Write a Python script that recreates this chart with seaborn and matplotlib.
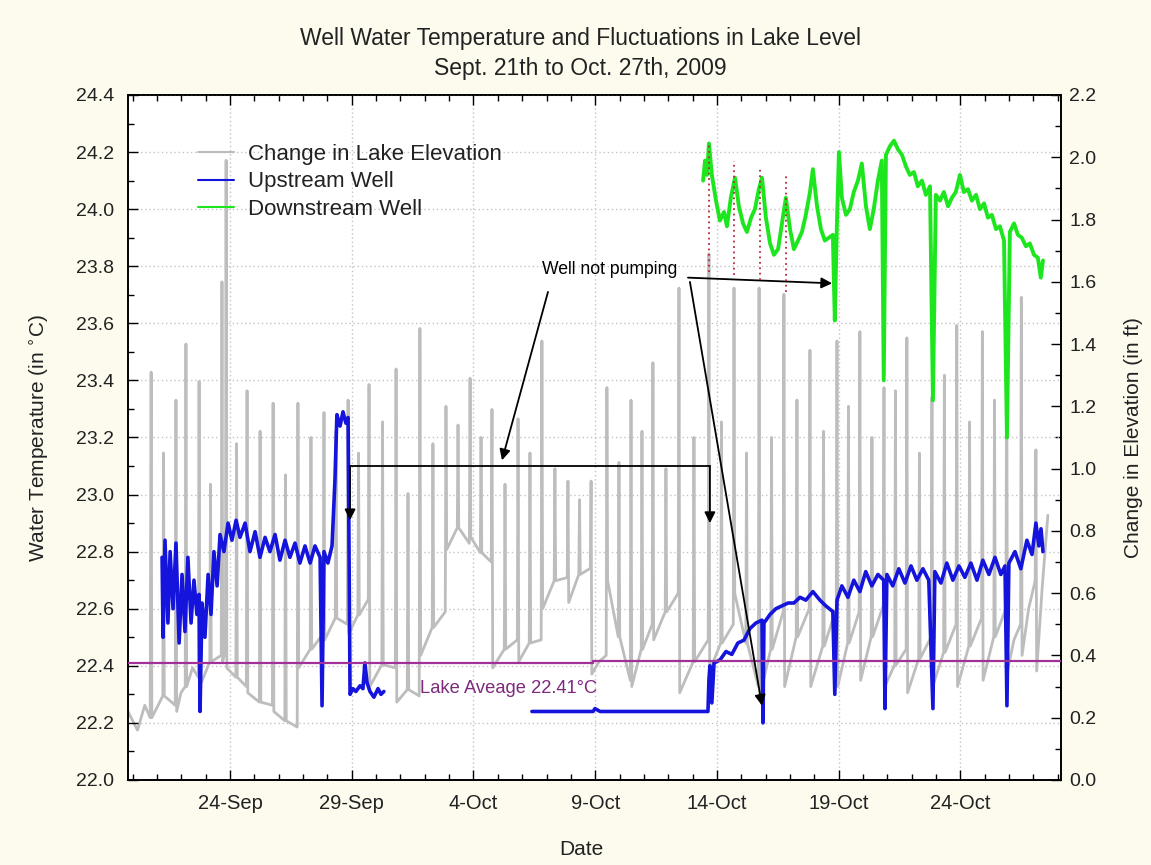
import numpy as np
import pandas as pd
import matplotlib
matplotlib.use('Agg')
import matplotlib.pyplot as plt
import matplotlib.dates as mdates
from matplotlib.lines import Line2D
from matplotlib.ticker import MultipleLocator, FormatStrFormatter
import seaborn as sns

# ---- data (days counted from 2009-09-20 00:00) ----
START = pd.Timestamp('2009-09-20')

# Change in lake elevation (ft): main daily spike, a smaller second spike,
# and the level between spikes
lake_start_day = [-0.19, 0.20, 0.50, 0.72]
lake_start_ft = [0.22, 0.16, 0.24, 0.20]
spike_day = [0.76, 1.78, 2.19, 2.73, 3.67, 3.84, 4.70, 5.77, 6.79, 7.86,
             8.85, 9.71, 10.82, 11.80, 12.87, 13.86, 14.76, 15.83, 16.81, 17.88,
             18.83, 19.48, 20.47, 21.37, 22.44, 23.67, 24.70, 25.73, 26.75, 27.82,
             28.93, 29.87, 30.86, 31.80, 32.83, 33.85, 34.90, 35.90, 36.50, 37.10]
spike_ft = [1.31, 1.22, 1.40, 1.28, 1.60, 1.99, 1.25, 1.21, 1.21, 1.18,
            1.22, 1.27, 1.32, 1.45, 1.20, 1.29, 1.19, 1.16, 1.41, 0.96,
            0.96, 1.26, 1.22, 1.34, 1.58, 1.69, 1.58, 1.58, 1.56, 1.38,
            1.41, 1.44, 1.26, 1.42, 1.23, 1.46, 1.44, 1.46, 1.55, 1.06]
after_ft = [0.20, 0.22, 0.30, 0.30, 0.38, 0.36, 0.28, 0.22, 0.36, 0.45,
            0.47, 0.30, 0.25, 0.40, 0.74, 0.78, 0.36, 0.38, 0.55, 0.57,
            0.34, 0.64, 0.30, 0.45, 0.28, 0.35, 0.60, 0.27, 0.30, 0.30,
            0.30, 0.32, 0.30, 0.28, 0.30, 0.30, 0.32, 0.35, 0.40, 0.35]
mid_ft = [0.27, 0.28, 0.36, 0.38, 0.40, 0.33, 0.25, 0.19, 0.42, 0.52,
          0.53, 0.37, 0.29, 0.49, 0.81, 0.73, 0.42, 0.44, 0.64, 0.66,
          0.38, 0.46, 0.42, 0.54, 0.38, 0.44, 0.44, 0.42, 0.46, 0.43,
          0.44, 0.46, 0.37, 0.39, 0.41, 0.43, 0.46, 0.45, 0.55, 0.62]
second_ft = [1.05, np.nan, np.nan, 0.95, np.nan, 1.08, 1.12, 0.98, 1.10, 1.12,
             1.05, 1.15, 0.92, 1.08, 1.14, 1.10, 0.95, 1.05, 1.00, 0.90,
             np.nan, 1.02, 1.12, 1.00, 1.10, 1.15, 1.05, 1.10, 1.22, 1.12,
             1.20, 1.10, 1.25, 1.05, 1.30, 1.15, 1.22, np.nan, np.nan, np.nan]
before_ft = [0.24, 0.30, 0.33, 0.40, 0.40, 0.30, 0.24, 0.17, 0.47, 0.50,
             0.58, 0.36, 0.27, 0.54, 0.76, 0.70, 0.45, 0.45, 0.65, 0.68,
             0.40, 0.32, 0.50, 0.60, 0.45, 0.50, 0.30, 0.54, 0.55, 0.55,
             0.54, 0.56, 0.42, 0.46, 0.50, 0.52, 0.55, 0.50, 0.64, 0.85]
lake_end_day = 37.62

# Upstream well (deg C), two logging periods
up1_day = [1.21, 1.25, 1.33, 1.45, 1.54, 1.66, 1.78, 1.91, 2.03, 2.15,
           2.27, 2.40, 2.52, 2.64, 2.73, 2.77, 2.85, 2.97, 3.10, 3.22,
           3.34, 3.47, 3.59, 3.75, 3.92, 4.08, 4.25, 4.41, 4.62, 4.82,
           5.03, 5.23, 5.44, 5.64, 5.85, 6.05, 6.26, 6.46, 6.67, 6.87,
           7.08, 7.29, 7.49, 7.70, 7.78, 7.86, 8.02, 8.19, 8.31, 8.39,
           8.52, 8.64, 8.76, 8.85, 8.93, 9.05, 9.17, 9.34, 9.46, 9.54,
           9.63, 9.75, 9.91, 10.08, 10.20, 10.32]
up1_temp = [22.78, 22.50, 22.84, 22.55, 22.80, 22.60, 22.83, 22.48, 22.72, 22.52,
            22.78, 22.55, 22.70, 22.58, 22.65, 22.24, 22.62, 22.50, 22.72, 22.58,
            22.80, 22.68, 22.86, 22.80, 22.90, 22.84, 22.91, 22.85, 22.90, 22.80,
            22.87, 22.78, 22.85, 22.80, 22.86, 22.77, 22.84, 22.78, 22.83, 22.76,
            22.82, 22.76, 22.82, 22.78, 22.26, 22.80, 22.76, 22.82, 23.05, 23.28,
            23.24, 23.29, 23.25, 23.27, 22.30, 22.32, 22.31, 22.33, 22.32, 22.41,
            22.34, 22.31, 22.29, 22.32, 22.30, 22.31]
up2_day = [16.40, 18.91, 18.99, 19.20, 23.63, 23.67, 23.71, 23.79, 23.88, 24.12,
           24.37, 24.61, 24.86, 25.11, 25.35, 25.60, 25.85, 25.89, 25.93, 26.18,
           26.42, 26.67, 26.92, 27.16, 27.41, 27.65, 27.94, 28.23, 28.47, 28.76,
           28.84, 28.93, 29.13, 29.38, 29.62, 29.87, 30.11, 30.36, 30.61, 30.85,
           30.90, 30.98, 31.22, 31.47, 31.72, 31.97, 32.21, 32.46, 32.70, 32.87,
           32.95, 33.20, 33.44, 33.69, 33.94, 34.18, 34.43, 34.68, 34.92, 35.17,
           35.42, 35.66, 35.83, 35.91, 35.99, 36.24, 36.48, 36.73, 36.94, 37.10,
           37.22, 37.31, 37.39]
up2_temp = [22.24, 22.24, 22.25, 22.24, 22.24, 22.35, 22.40, 22.27, 22.41, 22.42,
            22.45, 22.44, 22.48, 22.49, 22.53, 22.55, 22.56, 22.20, 22.55, 22.58,
            22.60, 22.61, 22.62, 22.62, 22.64, 22.63, 22.66, 22.63, 22.61, 22.59,
            22.30, 22.63, 22.68, 22.64, 22.70, 22.66, 22.73, 22.68, 22.72, 22.70,
            22.25, 22.72, 22.68, 22.74, 22.69, 22.75, 22.70, 22.74, 22.70, 22.25,
            22.73, 22.69, 22.76, 22.70, 22.75, 22.71, 22.76, 22.70, 22.77, 22.72,
            22.78, 22.72, 22.75, 22.26, 22.76, 22.80, 22.74, 22.84, 22.79, 22.90,
            22.82, 22.88, 22.80]

# Downstream well (deg C)
down_day = [23.43, 23.51, 23.59, 23.67, 23.79, 23.96, 24.12, 24.29, 24.41, 24.57,
            24.74, 24.90, 25.07, 25.23, 25.40, 25.56, 25.72, 25.85, 26.01, 26.18,
            26.34, 26.51, 26.67, 26.83, 27.00, 27.16, 27.33, 27.49, 27.65, 27.82,
            27.94, 28.11, 28.27, 28.43, 28.60, 28.76, 28.84, 28.93, 29.01, 29.13,
            29.30, 29.46, 29.62, 29.79, 29.95, 30.12, 30.28, 30.44, 30.61, 30.77,
            30.85, 30.94, 31.10, 31.27, 31.43, 31.60, 31.76, 31.92, 32.09, 32.25,
            32.42, 32.58, 32.75, 32.87, 32.99, 33.16, 33.32, 33.49, 33.65, 33.81,
            33.98, 34.14, 34.31, 34.47, 34.64, 34.80, 34.97, 35.13, 35.29, 35.46,
            35.62, 35.79, 35.91, 36.03, 36.20, 36.36, 36.52, 36.69, 36.85, 37.02,
            37.18, 37.30, 37.39]
down_temp = [24.10, 24.17, 24.12, 24.23, 24.12, 24.03, 23.96, 23.99, 23.94, 24.04,
             24.11, 24.01, 23.95, 23.92, 23.97, 24.00, 24.07, 24.11, 23.97, 23.88,
             23.84, 23.86, 23.95, 24.04, 23.93, 23.86, 23.89, 23.92, 23.98, 24.06,
             24.14, 24.01, 23.93, 23.89, 23.90, 23.91, 23.61, 23.96, 24.20, 24.04,
             23.98, 24.00, 24.06, 24.10, 24.16, 24.01, 23.93, 24.00, 24.10, 24.17,
             23.40, 24.19, 24.22, 24.24, 24.21, 24.19, 24.15, 24.12, 24.13, 24.08,
             24.10, 24.05, 24.08, 23.33, 24.05, 24.03, 24.06, 24.01, 24.04, 24.06,
             24.12, 24.06, 24.07, 24.03, 24.05, 24.00, 24.02, 23.97, 23.98, 23.93,
             23.94, 23.89, 23.20, 23.92, 23.95, 23.91, 23.90, 23.87, 23.88, 23.84,
             23.83, 23.76, 23.82]

# lake average line
avg_day = [-0.19, 18.91, 18.91, 38.13]
avg_temp = [22.41, 22.41, 22.417, 22.417]

# red dotted markers linking lake peaks to downstream peaks
red_day = [23.67, 24.70, 25.77, 26.83]
red_top = [24.23, 24.17, 24.14, 24.12]
red_bottom = [23.78, 23.77, 23.75, 23.71]

tick_dates = ['2009-09-24', '2009-09-29', '2009-10-04', '2009-10-09',
              '2009-10-14', '2009-10-19', '2009-10-24']
tick_labels = ['24-Sep', '29-Sep', '4-Oct', '9-Oct', '14-Oct', '19-Oct', '24-Oct']


def to_date(days):
    return START + pd.to_timedelta(np.asarray(days, dtype=float), unit='D')


def dn(d):
    return mdates.date2num(START + pd.Timedelta(days=d))


# assemble the lake trace from the readings
lake_d = list(lake_start_day)
lake_v = list(lake_start_ft)
for k, t in enumerate(spike_day):
    nxt = spike_day[k + 1] if k + 1 < len(spike_day) else lake_end_day
    tm = (t + nxt) / 2
    lake_d += [t, t + 0.03]
    lake_v += [spike_ft[k], after_ft[k]]
    if np.isnan(second_ft[k]):
        lake_d += [tm]
        lake_v += [mid_ft[k]]
    else:
        lake_d += [tm - 0.03, tm, tm + 0.03]
        lake_v += [mid_ft[k], second_ft[k], mid_ft[k]]
    lake_d += [nxt - 0.03]
    lake_v += [before_ft[k]]
lake_df = pd.DataFrame({'date': to_date(lake_d), 'ft': lake_v})

up_df = pd.concat([
    pd.DataFrame({'date': to_date(up1_day), 'temp': up1_temp, 'seg': 1}),
    pd.DataFrame({'date': to_date(up2_day), 'temp': up2_temp, 'seg': 2}),
])
down_df = pd.DataFrame({'date': to_date(down_day), 'temp': down_temp})

# ---- style ----
sns.set_theme(style='white')
plt.rcParams['font.family'] = ['Liberation Sans', 'DejaVu Sans']
TXT = '#222222'
GRAY = '#bdbdbd'
BLUE = '#1414dc'
GREEN = '#1ee61e'
PURPLE = '#a0309a'

fig = plt.figure(figsize=(11.51, 8.65), dpi=100, facecolor='#fdfaee')
ax = fig.add_axes([0.1112, 0.0983, 0.8106, 0.7919])
ax2 = ax.twinx()
ax.set_zorder(ax2.get_zorder() + 1)
ax.patch.set_visible(False)
ax2.patch.set_visible(True)
ax2.patch.set_facecolor('white')

# lake elevation on the right axis
sns.lineplot(data=lake_df, x='date', y='ft', sort=False, estimator=None,
             color=GRAY, lw=2.0, ax=ax2, legend=False)

# wells on the left axis
sns.lineplot(data=up_df, x='date', y='temp', units='seg', sort=False, estimator=None,
             color=BLUE, lw=2.6, ax=ax, legend=False)
sns.lineplot(data=down_df, x='date', y='temp', sort=False, estimator=None,
             color=GREEN, lw=2.8, ax=ax, legend=False)
ax.plot(to_date(avg_day), avg_temp, color=PURPLE, lw=1.6, zorder=3)
ax.vlines(to_date(red_day), red_bottom, red_top, colors='#b8283c',
          linestyles=(0, (1, 2)), lw=1.3, zorder=4)

# axes limits / ticks
ax.set_xlim(to_date(-0.19), to_date(38.13))
ax.set_ylim(22.0, 24.4)
ax2.set_ylim(0.0, 2.2)
ax.set_xticks(pd.to_datetime(tick_dates))
ax.set_xticklabels(tick_labels)
ax.xaxis.set_minor_locator(mdates.DayLocator())
ax.yaxis.set_major_locator(MultipleLocator(0.2))
ax.yaxis.set_minor_locator(MultipleLocator(0.1))
ax.yaxis.set_major_formatter(FormatStrFormatter('%.1f'))
ax2.yaxis.set_major_locator(MultipleLocator(0.2))
ax2.yaxis.set_minor_locator(MultipleLocator(0.1))
ax2.yaxis.set_major_formatter(FormatStrFormatter('%.1f'))

ax.tick_params(axis='x', which='both', direction='in', top=True, bottom=True,
               labelsize=14.5, colors=TXT, pad=10)
ax.tick_params(axis='y', which='both', direction='in', left=True, right=False,
               labelsize=14, colors=TXT, pad=10)
ax2.tick_params(axis='y', which='both', direction='in', right=True,
                labelsize=14, colors=TXT, pad=6)
for a in (ax, ax2):
    a.tick_params(which='major', length=7, width=1, color='black')
    a.tick_params(which='minor', length=4, width=1, color='black')
    for s in a.spines.values():
        s.set_color('black')
        s.set_linewidth(1.2)

ax.grid(True, which='major', axis='both', color='#c4c4c4', ls=(0, (1, 2)), lw=1)

ax.set_xlabel('Date', fontsize=15, color=TXT)
ax.xaxis.set_label_coords(0.4855, -0.088)
ax.set_ylabel('Water Temperature (in $^{\\circ}$C)', fontsize=15, color=TXT)
ax.yaxis.set_label_coords(-0.082, 0.5)
ax2.set_ylabel('Change in Elevation (in ft)', fontsize=15, color=TXT, labelpad=20)

fig.text(0.504, 1 - 38 / 865, 'Well Water Temperature and Fluctuations in Lake Level',
         ha='center', va='center', fontsize=16.5, color=TXT)
fig.text(0.504, 1 - 68 / 865, 'Sept. 21th to Oct. 27th, 2009',
         ha='center', va='center', fontsize=16.5, color=TXT)

# legend
handles = [Line2D([], [], color=GRAY, lw=1.5), Line2D([], [], color=BLUE, lw=1.5),
           Line2D([], [], color=GREEN, lw=1.5)]
ax.legend(handles, ['Change in Lake Elevation', 'Upstream Well', 'Downstream Well'],
          loc='upper left', bbox_to_anchor=(0.075, 0.929), frameon=False, fontsize=16,
          handlelength=1.6, handletextpad=0.64, labelspacing=0.3, borderpad=0,
          borderaxespad=0, labelcolor=TXT)

# annotations
arrow = dict(arrowstyle='-|>', color='black', lw=1.3, shrinkA=0, shrinkB=0,
             mutation_scale=16)
ax.text(dn(16.82), 23.79, 'Well not pumping', ha='left', va='center',
        fontsize=12.7, color='black', zorder=6)
ax.annotate('', xy=(dn(15.17), 23.12), xytext=(dn(17.06), 23.71), arrowprops=arrow)
ax.annotate('', xy=(dn(25.85), 22.26), xytext=(dn(22.89), 23.745), arrowprops=arrow)
ax.annotate('', xy=(dn(28.73), 23.74), xytext=(dn(22.81), 23.76), arrowprops=arrow)
ax.plot([dn(8.93), dn(23.71)], [23.10, 23.10], color='black', lw=1.3, zorder=5)
ax.annotate('', xy=(dn(8.93), 22.91), xytext=(dn(8.93), 23.10), arrowprops=arrow)
ax.annotate('', xy=(dn(23.71), 22.90), xytext=(dn(23.71), 23.10), arrowprops=arrow)

ax.text(dn(11.80), 22.322, 'Lake Aveage 22.41\u00b0C', ha='left', va='center',
        fontsize=13.2, color='#7d2a7d', zorder=6)

fig.savefig('out.png', dpi=100, facecolor=fig.get_facecolor())
